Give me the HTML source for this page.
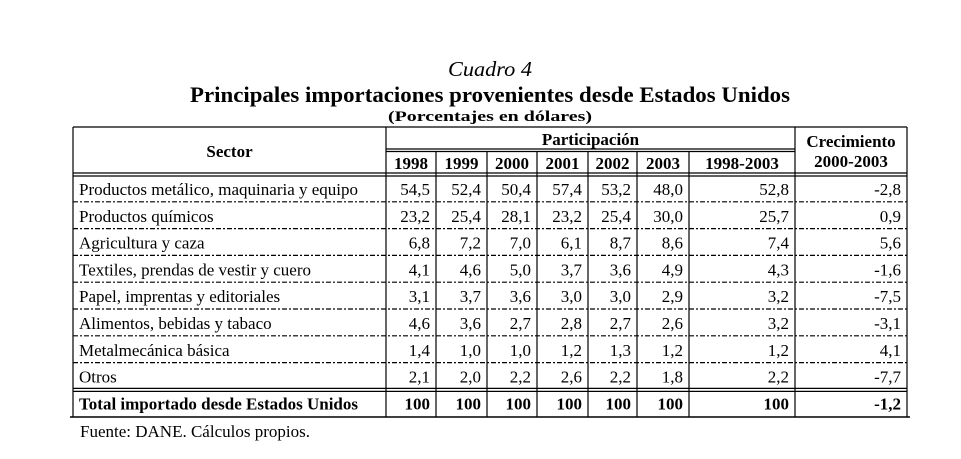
<!DOCTYPE html>
<html><head><meta charset="utf-8"><style>
html,body{margin:0;padding:0;background:#fff;width:961px;height:459px;overflow:hidden}
svg{display:block;font-family:"Liberation Serif",serif}
</style></head><body>
<svg id="t" width="961" height="459" viewBox="0 0 961 459">
<text x="490" y="76" text-anchor="middle" font-size="21" font-style="italic" textLength="84" lengthAdjust="spacingAndGlyphs">Cuadro 4</text>
<text x="490" y="102" text-anchor="middle" font-size="22" font-weight="bold" textLength="600" lengthAdjust="spacingAndGlyphs">Principales importaciones provenientes desde Estados Unidos</text>
<text x="490" y="121" text-anchor="middle" font-size="15" font-weight="bold" textLength="204" lengthAdjust="spacingAndGlyphs">(Porcentajes en dólares)</text>
<text x="80" y="437" font-size="17">Fuente: DANE. Cálculos propios.</text>
</svg>
<script>
const sectors=["Productos metálico, maquinaria y equipo","Productos químicos","Agricultura y caza","Textiles, prendas de vestir y cuero","Papel, imprentas y editoriales","Alimentos, bebidas y tabaco","Metalmecánica básica","Otros"];
const years=["1998","1999","2000","2001","2002","2003","1998-2003"];
const v1998=["54,5","23,2","6,8","4,1","3,1","4,6","1,4","2,1"];
const v1999=["52,4","25,4","7,2","4,6","3,7","3,6","1,0","2,0"];
const v2000=["50,4","28,1","7,0","5,0","3,6","2,7","1,0","2,2"];
const v2001=["57,4","23,2","6,1","3,7","3,0","2,8","1,2","2,6"];
const v2002=["53,2","25,4","8,7","3,6","3,0","2,7","1,3","2,2"];
const v2003=["48,0","30,0","8,6","4,9","2,9","2,6","1,2","1,8"];
const vAvg=["52,8","25,7","7,4","4,3","3,2","3,2","1,2","2,2"];
const growth=["-2,8","0,9","5,6","-1,6","-7,5","-3,1","4,1","-7,7"];
const totals=["100","100","100","100","100","100","100"];
const totalGrowth="-1,2";

const svg=document.getElementById('t');
const NS="http://www.w3.org/2000/svg";
const colX=[73,386,436,487,537,588,637,689,795,907];
const L=73,R=907,tableTop=127,r1=149,r2=175,rowH=26.8,nRows=sectors.length;
const FS=17;
const rowY=i=>r2+i*rowH;
const totTop=rowY(nRows), totBot=417;
function line(x1,y1,x2,y2,name,dash,w){
  const l=document.createElementNS(NS,'line');
  l.setAttribute('x1',x1);l.setAttribute('y1',y1);l.setAttribute('x2',x2);l.setAttribute('y2',y2);
  l.setAttribute('stroke','#000');l.setAttribute('stroke-width',w||1.2);
  if(dash)l.setAttribute('stroke-dasharray',dash);
  
  
  svg.appendChild(l);
}
function text(x,y,s,anchor,bold,name){
  const t=document.createElementNS(NS,'text');
  t.setAttribute('x',x);t.setAttribute('y',y);t.setAttribute('font-size',FS);
  t.setAttribute('text-anchor',anchor);
  if(bold)t.setAttribute('font-weight','bold');
  t.textContent=s;
  
  
  svg.appendChild(t);
}
line(L,tableTop,R,tableTop,'top-border');
line(L,tableTop,L,totBot,'left-border');
line(R,tableTop,R,totBot,'right-border');
line(colX[1],r1,colX[8],r1,'participacion-rule');
line(colX[1],r1+2.5,colX[8],r1+2.5,'participacion-rule-2');
line(L,r2-2,R,r2-2,'header-rule');
line(L,r2+1,R,r2+1,'header-rule-2');
for(let i=1;i<nRows;i++)line(L,rowY(i),R,rowY(i),'row-separator','5 2 2 2');
line(L,totTop-1,R,totTop-1,'total-rule');
line(L,totTop+2,R,totTop+2,'total-rule-2');
line(L-3,totBot,R+3,totBot,'bottom-border',null,1.5);
line(colX[1],tableTop,colX[1],totBot,'sector-col-border');
line(colX[8],tableTop,colX[8],totBot,'growth-col-border');
for(let c=2;c<8;c++)line(colX[c],r1+2.5,colX[c],totBot,'year-col-border');
text((L+colX[1])/2,157,'Sector','middle',true,'sector-header');
text((colX[1]+colX[8])/2,145,'Participación','middle',true,'participacion-header');
text((colX[8]+R)/2,147,'Crecimiento','middle',true,'growth-header');
text((colX[8]+R)/2,167,'2000-2003','middle',true,'growth-period-header');
years.forEach((y,i)=>text((colX[i+1]+colX[i+2])/2,169,y,'middle',true,'year-header'));
const cols=[v1998,v1999,v2000,v2001,v2002,v2003,vAvg,growth];
for(let i=0;i<nRows;i++){
  const by=rowY(i)+20;
  text(L+6,by,sectors[i],'start',false,'sector-label');
  cols.forEach((arr,c)=>text(colX[c+2]-6,by,arr[i],'end',false,'cell-value'));
}
const ty=totTop+20;
text(L+6,ty,'Total importado desde Estados Unidos','start',true,'total-label');
totals.forEach((v,c)=>text(colX[c+2]-6,ty,v,'end',true,'total-value'));
text(R-6,ty,totalGrowth,'end',true,'total-growth');
</script>
</body></html>
